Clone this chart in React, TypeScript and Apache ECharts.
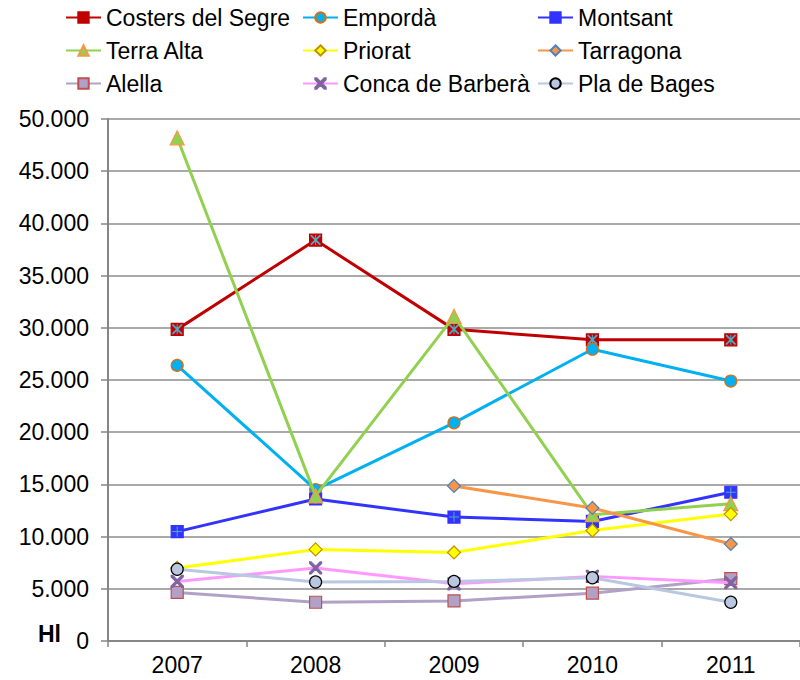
import React, { useEffect, useRef } from "react";
import * as echarts from "echarts";

const years = ["2007", "2008", "2009", "2010", "2011"];
const seriesNames = [
  "Costers del Segre",
  "Empordà",
  "Montsant",
  "Terra Alta",
  "Priorat",
  "Tarragona",
  "Alella",
  "Conca de Barberà",
  "Pla de Bages",
];
const costers = [29850, 38400, 29850, 28850, 28850];
const emporda = [26400, 14500, 20900, 27950, 24900];
const montsant = [10480, 13600, 11870, 11450, 14250];
const terraAlta = [48200, 13900, 31100, 12100, 13150];
const priorat = [7000, 8770, 8480, 10580, 12160];
const tarragona = [null, null, 14850, 12740, 9290];
const alella = [4650, 3710, 3840, 4580, 5970];
const conca = [5710, 7000, 5480, 6190, 5580];
const plaBages = [6870, 5650, 5710, 6060, 3710];
const yTicks = { min: 0, max: 50000, interval: 5000 };

const FONT = "'Liberation Sans', Arial, sans-serif";
const X_PATH =
  "path://M0,0 L2.5,0 L10,7.5 L17.5,0 L20,0 L20,2.5 L12.5,10 L20,17.5 L20,20 L17.5,20 L10,12.5 L2.5,20 L0,20 L0,17.5 L7.5,10 L0,2.5 Z";
const STAR_PATH =
  "path://M0,0 L2.5,0 L10,7.5 L17.5,0 L20,0 L20,2.5 L12.5,10 L20,17.5 L20,20 L17.5,20 L10,12.5 L2.5,20 L0,20 L0,17.5 L7.5,10 L0,2.5 Z M9,0 L11,0 L11,20 L9,20 Z";
const PLUS_PATH =
  "path://M9,0 L11,0 L11,9 L20,9 L20,11 L11,11 L11,20 L9,20 L9,11 L0,11 L0,9 L9,9 Z";

function lineSeries(name: string, data: (number | null)[], color: string, symbol: string, size: number, fill: string, border: string, z: number) {
  return {
    name,
    type: "line",
    data,
    z,
    symbol,
    symbolSize: size,
    showSymbol: true,
    connectNulls: false,
    lineStyle: { color, width: 3 },
    itemStyle: { color: fill, borderColor: border, borderWidth: 1.2 },
    emphasis: { disabled: true },
  };
}

function overlay(data: (number | null)[], path: string, color: string, size: number, z: number) {
  return {
    type: "line",
    data,
    z,
    symbol: path,
    symbolSize: size,
    showSymbol: true,
    silent: true,
    lineStyle: { opacity: 0, width: 0 },
    itemStyle: { color },
    emphasis: { disabled: true },
  };
}

const legendCols = [65, 302, 537];
const legendRows = [6, 39, 72];

export default function App() {
  const ref = useRef<HTMLDivElement>(null);
  useEffect(() => {
    document.body.style.margin = "0";
    const chart = echarts.init(ref.current!, null, { renderer: "svg" });
    const legends = seriesNames.map((n, i) => ({
      data: [n],
      left: legendCols[i % 3],
      top: legendRows[Math.floor(i / 3)],
      padding: 0,
      itemWidth: 35,
      itemHeight: 13,
      selectedMode: false,
      textStyle: { fontSize: 23, fontFamily: FONT, color: "#000" },
    }));
    chart.setOption({
      animation: false,
      backgroundColor: "#fff",
      legend: legends,
      grid: { left: 108, top: 119, bottom: 39, width: 699, containLabel: false },
      xAxis: {
        type: "category",
        data: years,
        boundaryGap: true,
        axisLine: { show: true, lineStyle: { color: "#868686", width: 2 } },
        axisTick: { show: true, length: 6, alignWithLabel: false, lineStyle: { color: "#868686", width: 1.5 } },
        axisLabel: { fontSize: 23, fontFamily: FONT, color: "#000", margin: 12 },
        splitLine: { show: false },
      },
      yAxis: {
        type: "value",
        min: yTicks.min,
        max: yTicks.max,
        interval: yTicks.interval,
        axisLine: { show: true, lineStyle: { color: "#868686", width: 2 } },
        axisTick: { show: true, length: 7, lineStyle: { color: "#868686", width: 1.5 } },
        axisLabel: {
          fontSize: 23,
          fontFamily: FONT,
          color: "#000",
          margin: 19,
          formatter: (v: number) => v.toLocaleString("de-DE"),
        },
        splitLine: { show: true, lineStyle: { color: "#8c8c8c", width: 1.5 } },
      },
      graphic: [
        {
          type: "text",
          left: 38,
          top: 622,
          style: { text: "Hl", fontSize: 23, fontWeight: "bold", fontFamily: FONT, fill: "#000" },
        },
      ],
      series: [
        lineSeries(seriesNames[0], costers, "#C00000", "rect", 12, "#C00000", "#C00000", 10),
        lineSeries(seriesNames[1], emporda, "#00B0F0", "circle", 12, "#00B0F0", "#E36C0A", 11),
        lineSeries(seriesNames[2], montsant, "#3333FF", "rect", 12, "#3333FF", "#3333FF", 12),
        lineSeries(seriesNames[3], terraAlta, "#92D050", "triangle", 14, "#92D050", "#F79646", 13),
        lineSeries(seriesNames[4], priorat, "#FFFF00", "diamond", 13, "#FFFF00", "#C09000", 14),
        lineSeries(seriesNames[5], tarragona, "#F79646", "diamond", 13, "#F79646", "#4F81BD", 15),
        lineSeries(seriesNames[6], alella, "#B2A1C7", "rect", 12, "#B2A1C7", "#C0504D", 16),
        lineSeries(seriesNames[7], conca, "#FF99FF", X_PATH, 12, "#8064A2", "#8064A2", 17),
        lineSeries(seriesNames[8], plaBages, "#B9C7E0", "circle", 12, "#B9C7E0", "#000000", 18),
        overlay(costers, STAR_PATH, "#4BACC6", 10, 10),
        overlay(montsant, PLUS_PATH, "#4BACC6", 10, 12),
      ],
    });
    return () => chart.dispose();
  }, []);
  return (
    <div
      ref={ref}
      style={{ position: "absolute", left: 0, top: 0, width: 800, height: 680 }}
    />
  );
}
